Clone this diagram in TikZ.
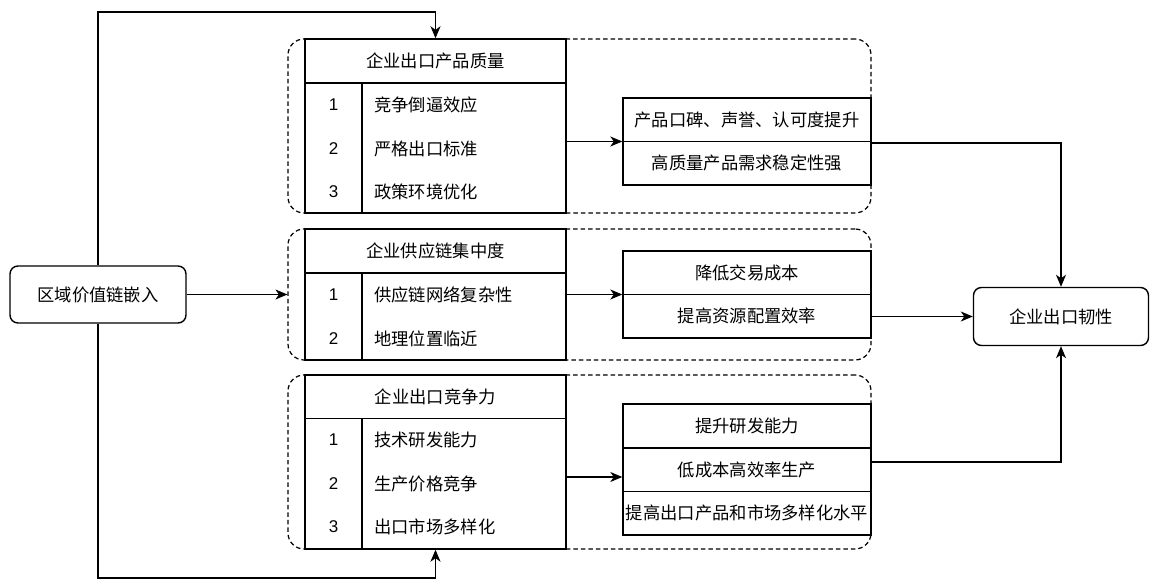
\documentclass[tikz,border=0pt]{standalone}
\usepackage{fontspec}
\setmainfont{Noto Sans CJK SC}
\newfontfamily\numfont{Liberation Sans}
\usetikzlibrary{arrows.meta}
\tikzset{
  box/.style={draw, line width=1.4pt, fill=white, inner sep=0pt},
  rbox/.style={box, rounded corners=8pt},
  grp/.style={draw, line width=1.2pt, dash pattern=on 4.5pt off 3pt, rounded corners=16pt, inner sep=0pt},
  txt/.style={inner sep=0pt, font=\fontsize{17.3}{20}\selectfont},
  num/.style={inner sep=0pt, font=\numfont\fontsize{17}{20}\selectfont},
  ln/.style={line width=1.4pt},
  arr/.style={line width=1.3pt, -{Stealth[length=12pt,width=10pt,inset=3.5pt]}},
}
\begin{document}
\begin{tikzpicture}[x=1pt,y=-1pt]
\useasboundingbox (0,0) rectangle (1152,585);
% dashed groups
\node[grp, minimum width=583pt, minimum height=174pt] (c1) at (579.5,126) {};
\node[grp, minimum width=583pt, minimum height=131pt] (c2) at (579.5,294.5) {};
\node[grp, minimum width=583pt, minimum height=174pt] (c3) at (579.5,462) {};
% left and right nodes
\node[rbox, minimum width=176pt, minimum height=57pt, txt] (src) at (98,294.5) {区域价值链嵌入};
\node[rbox, minimum width=175pt, minimum height=58pt, txt] (res) at (1061,316.5) {企业出口韧性};
% table 1
\node[box, minimum width=261pt, minimum height=174pt] (t1) at (435.5,126) {};
\draw[ln] (305,83) -- (566,83);
\draw[ln] (362,83) -- (362,213);
\node[txt] (t1h) at (435.5,61) {企业出口产品质量};
\node[num] (t1n1) at (333.5,105) {1};
\node[num] (t1n2) at (333.5,148.5) {2};
\node[num] (t1n3) at (333.5,192) {3};
\node[txt, anchor=west] (t1r1) at (374,105) {竞争倒逼效应};
\node[txt, anchor=west] (t1r2) at (374,148.5) {严格出口标准};
\node[txt, anchor=west] (t1r3) at (374,192) {政策环境优化};
% table 2
\node[box, minimum width=261pt, minimum height=131pt] (t2) at (435.5,294.5) {};
\draw[ln] (305,273) -- (566,273);
\draw[ln] (362,273) -- (362,360);
\node[txt] (t2h) at (435.5,251) {企业供应链集中度};
\node[num] (t2n1) at (333.5,295) {1};
\node[num] (t2n2) at (333.5,338.5) {2};
\node[txt, anchor=west] (t2r1) at (374,295) {供应链网络复杂性};
\node[txt, anchor=west] (t2r2) at (374,338.5) {地理位置临近};
% table 3
\node[box, minimum width=261pt, minimum height=174pt] (t3) at (435.5,462) {};
\draw[ln] (305,418.5) -- (566,418.5);
\draw[ln] (362,418.5) -- (362,549);
\node[txt] (t3h) at (435.5,397) {企业出口竞争力};
\node[num] (t3n1) at (333.5,440) {1};
\node[num] (t3n2) at (333.5,483.5) {2};
\node[num] (t3n3) at (333.5,527) {3};
\node[txt, anchor=west] (t3r1) at (374,440) {技术研发能力};
\node[txt, anchor=west] (t3r2) at (374,483.5) {生产价格竞争};
\node[txt, anchor=west] (t3r3) at (374,527) {出口市场多样化};
% result boxes
\node[box, minimum width=248pt, minimum height=87pt] (r1) at (747,141.5) {};
\draw[ln] (623,141.5) -- (871,141.5);
\node[txt] (r1a) at (747,120) {产品口碑、声誉、认可度提升};
\node[txt] (r1b) at (747,163) {高质量产品需求稳定性强};
\node[box, minimum width=248pt, minimum height=87pt] (r2) at (747,294.5) {};
\draw[ln] (623,294.5) -- (871,294.5);
\node[txt] (r2a) at (747,273) {降低交易成本};
\node[txt] (r2b) at (747,316) {提高资源配置效率};
\node[box, minimum width=248pt, minimum height=131pt] (r3) at (747,469.5) {};
\draw[ln] (623,447.8) -- (871,447.8);
\draw[ln] (623,491.2) -- (871,491.2);
\node[txt] (r3a) at (747,426) {提升研发能力};
\node[txt] (r3b) at (747,469.5) {低成本高效率生产};
\node[txt] (r3c) at (747,513) {提高出口产品和市场多样化水平};
% connectors
\coordinate (ltop) at (98,12);
\coordinate (lbot) at (98,578);
\draw[arr] (src.north) -- (ltop) -| (t1.north);
\draw[arr] (src.south) -- (lbot) -| (t3.south);
\draw[arr] (src.east) -- (c2.west);
\draw[arr] (t1.east |- r1.west) -- (r1.west);
\draw[arr] (t2.east) -- (r2.west);
\draw[arr] ([yshift=-7.5pt]t3.east |- r3.west) -- ([yshift=-7.5pt]r3.west);
\draw[arr] ([yshift=-1.5pt]r1.east) -| (res.north);
\draw[arr] (res.west -| r2.east) -- (res.west);
\draw[arr] ([yshift=7.5pt]r3.east) -| (res.south);
\end{tikzpicture}
\end{document}
